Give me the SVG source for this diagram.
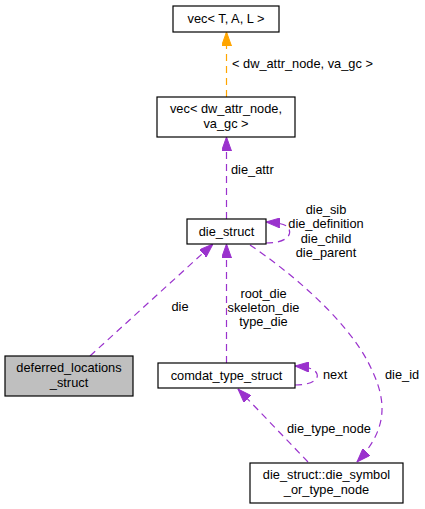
<svg xmlns="http://www.w3.org/2000/svg" width="425" height="509" viewBox="0 0 425 509">
<style>
text{font-family:"Liberation Sans",Arial,sans-serif;font-size:12.8px;fill:#000}
.n rect{fill:#fff;stroke:#000;stroke-width:1.2}
.n text{text-anchor:middle}
.e{fill:none;stroke:#9a32cd;stroke-width:1.2;stroke-dasharray:7,5}
.o{stroke:#ffa500}
.m{text-anchor:middle}
</style>
<defs>
<marker id="ap" viewBox="0 0 14 10" refX="14" refY="5" markerWidth="14" markerHeight="10" markerUnits="userSpaceOnUse" orient="auto">
<path d="M0,0 L14,5 L0,10 z" fill="#9a32cd" stroke="#9a32cd"/>
</marker>
<marker id="ao" viewBox="0 0 14 10" refX="14" refY="5" markerWidth="14" markerHeight="10" markerUnits="userSpaceOnUse" orient="auto">
<path d="M0,0 L14,5 L0,10 z" fill="#ffa500" stroke="#ffa500"/>
</marker>
</defs>
<g id="edges">
<path class="e o" d="M226.5,97 L226.5,32" marker-end="url(#ao)"/>
<text x="232" y="67.5">&lt; dw_attr_node, va_gc &gt;</text>
<path class="e" d="M226.5,219 L226.5,137" marker-end="url(#ap)"/>
<text x="231" y="173.5">die_attr</text>
<path class="e" d="M266,243 C285,243 292,236 289,229 C287,225 282,223 266,222" marker-end="url(#ap)"/>
<text class="m" x="326" y="213.5">die_sib</text>
<text class="m" x="326" y="228">die_definition</text>
<text class="m" x="326" y="242.5">die_child</text>
<text class="m" x="326" y="257">die_parent</text>
<path class="e" d="M90,356 L213,244" marker-end="url(#ap)"/>
<text class="m" x="180" y="311">die</text>
<path class="e" d="M226.5,363 L226.5,244" marker-end="url(#ap)"/>
<text class="m" x="263.5" y="297.5">root_die</text>
<text class="m" x="263.5" y="311.5">skeleton_die</text>
<text class="m" x="263.5" y="325.5">type_die</text>
<path class="e" d="M295,385 C312,385 319,379 317,374 C315,369 309,367 295,366" marker-end="url(#ap)"/>
<text x="323" y="378.5">next</text>
<path class="e" d="M308,462 L238,389" marker-end="url(#ap)"/>
<text x="287" y="432.5">die_type_node</text>
<path class="e" d="M250,245 C290,272 345,318 368,362 C385,395 392,425 357,462" marker-end="url(#ap)"/>
<text x="385" y="378.5">die_id</text>
</g>
<g id="vec_TAL" class="n">
<rect x="173" y="6" width="106" height="26"/>
<text x="226" y="23">vec&lt; T, A, L &gt;</text>
</g>
<g id="vec_dw" class="n">
<rect x="157" y="97" width="138" height="40"/>
<text x="226" y="113">vec&lt; dw_attr_node,</text>
<text x="226" y="128">va_gc &gt;</text>
</g>
<g id="die_struct" class="n">
<rect x="187" y="219" width="79" height="25"/>
<text x="226.5" y="235.5">die_struct</text>
</g>
<g id="deferred_locations_struct" class="n">
<rect x="5" y="356" width="128" height="40" style="fill:#bfbfbf"/>
<text x="69" y="372">deferred_locations</text>
<text x="69" y="387">_struct</text>
</g>
<g id="comdat_type_struct" class="n">
<rect x="158" y="363" width="137" height="25"/>
<text x="226.5" y="379.5">comdat_type_struct</text>
</g>
<g id="die_symbol_or_type_node" class="n">
<rect x="250" y="463" width="153" height="40"/>
<text x="326.5" y="479">die_struct::die_symbol</text>
<text x="326.5" y="494">_or_type_node</text>
</g>
</svg>
